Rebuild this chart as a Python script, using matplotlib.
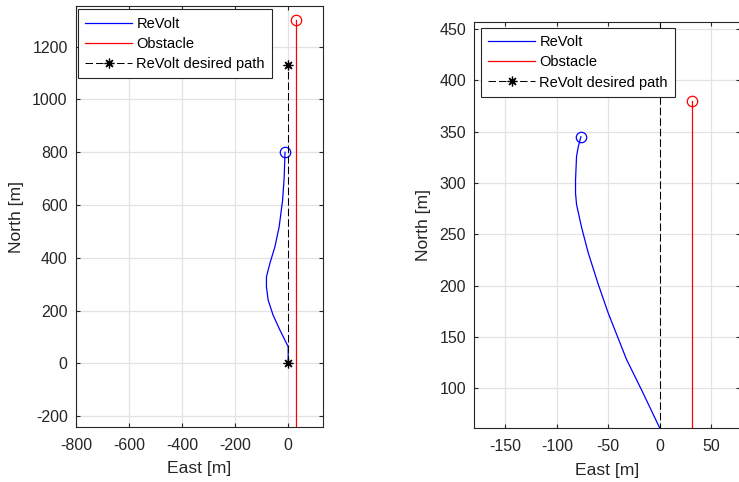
import numpy as np
import matplotlib
matplotlib.use('Agg')
import matplotlib.pyplot as plt

plt.rcParams['font.family'] = ['Liberation Sans', 'DejaVu Sans']
plt.rcParams['axes.unicode_minus'] = False

# ReVolt track, late snapshot (left panel)
lateEast = [0, 0, -31, -57, -75.5, -82, -82, -69, -50, -34, -21, -15, -12]
lateNorth = [0, 63, 126, 183, 240, 290, 328, 379, 442, 518, 619, 707, 800]

# ReVolt track, early snapshot (right panel)
earlyEast = [0, 0, -17.8, -32.3, -50, -60, -69.5, -76, -80.8, -81.8, -81.8, -80.8, -79.2, -76.6]
earlyNorth = [0, 61, 98.5, 128, 173, 202, 232, 257, 279, 290, 303, 326, 335, 345]

# Obstacle track (straight north along east = 31)
obstacleEast = 31
obstacleNorthStart = -300
obstacleNorthLate = 1300
obstacleNorthEarly = 380

# Desired path waypoints
pathEast = [0, 0]
pathNorth = [0, 1130]

axisColor = '#262626'
gridColor = '#e3e3e3'


def styleAxes(ax, xlim, ylim, xticks, yticks):
    ax.set_xlim(xlim)
    ax.set_ylim(ylim)
    ax.set_xticks(xticks)
    ax.set_yticks(yticks)
    ax.grid(True, color=gridColor, linewidth=0.9)
    ax.set_axisbelow(True)
    ax.tick_params(direction='in', length=3, width=0.8, colors=axisColor,
                   labelsize=11.5, top=True, right=True, pad=6)
    ax.tick_params(axis='x', pad=8)
    for spine in ax.spines.values():
        spine.set_color(axisColor)
        spine.set_linewidth(0.8)
    ax.set_xlabel('East [m]', fontsize=12.6, color=axisColor, labelpad=6)
    ax.set_ylabel('North [m]', fontsize=12.6, color=axisColor, labelpad=6)


def drawPanel(ax, east, north, obstacleTop, anchor):
    ax.plot(east, north, color='#0000ff', linewidth=0.9, label='ReVolt')
    ax.plot(east[-1], north[-1], 'o', mfc='none', mec='#0000ff', ms=7.5, mew=0.9)
    ax.plot([obstacleEast, obstacleEast], [obstacleNorthStart, obstacleTop],
            color='#ff0000', linewidth=0.9, label='Obstacle')
    ax.plot(obstacleEast, obstacleTop, 'o', mfc='none', mec='#ff0000', ms=7.5, mew=0.9)
    # asterisk waypoints on a dashed line
    ax.plot(pathEast, pathNorth, color='black', linewidth=0.75, dashes=(7.2, 2.9),
            marker=(8, 2, 0), ms=7, mew=0.9, label='ReVolt desired path')
    leg = ax.legend(loc='upper left', bbox_to_anchor=anchor, borderaxespad=0,
                    fontsize=10.5, handlelength=3.2, handletextpad=0.3,
                    labelspacing=0.42, borderpad=0.5, numpoints=1,
                    fancybox=False, framealpha=1)
    leg.get_frame().set_edgecolor(axisColor)
    leg.get_frame().set_linewidth(0.8)
    for txt in leg.get_texts():
        txt.set_color('black')


fig = plt.figure(figsize=(7.39, 4.82), dpi=100)

axLeft = fig.add_axes([0.1028, 0.1141, 0.3342, 0.8734])
drawPanel(axLeft, lateEast, lateNorth, obstacleNorthLate, (0.008, 0.992))
styleAxes(axLeft, (-800, 131), (-241, 1354),
          np.arange(-800, 1, 200), np.arange(-200, 1201, 200))

axRight = fig.add_axes([0.6418, 0.1114, 0.3595, 0.8423])
drawPanel(axRight, earlyEast, earlyNorth, obstacleNorthEarly, (0.025, 0.986))
styleAxes(axRight, (-180, 77.7), (61, 456.5),
          np.arange(-150, 51, 50), np.arange(100, 451, 50))

fig.savefig('out.png', dpi=100)
